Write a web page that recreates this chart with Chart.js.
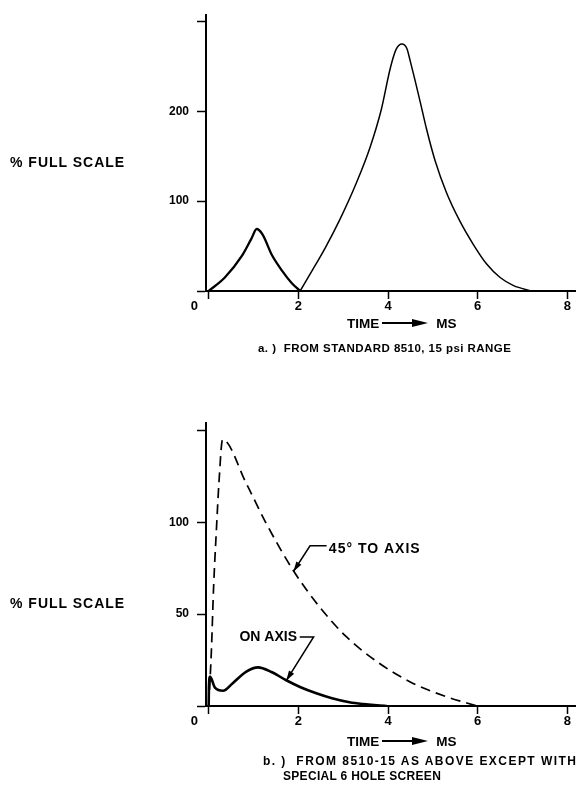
<!DOCTYPE html>
<html>
<head>
<meta charset="utf-8">
<script src="https://cdn.jsdelivr.net/npm/chart.js@4/dist/chart.umd.min.js"></script>
<style>
  html, body { margin: 0; padding: 0; background: #fff; }
  #wrap { position: relative; width: 577px; height: 785px; overflow: hidden; background: #fff;
          font-family: "Liberation Sans", Arial, Helvetica, sans-serif;
          font-weight: bold; color: #000; }
  .cv { position: absolute; left: 0; }
  .lbl { position: absolute; white-space: nowrap; line-height: 1; }
  .arrow { display: inline-block; position: relative; width: 46px; height: 10px; vertical-align: middle; margin: 0 8px 0 3px; top: -1px; }
  .arrow::before { content: ""; position: absolute; left: 0; right: 10px; top: 4px; border-top: 2px solid #000; }
  .arrow::after { content: ""; position: absolute; right: 0; top: 1px; border-left: 16px solid #000;
                  border-top: 4px solid transparent; border-bottom: 4px solid transparent; }
</style>
</head>
<body>
<div id="wrap">
  <canvas id="chartA" class="cv" width="577" height="320" style="top:0px;width:577px;height:320px"></canvas>
  <canvas id="chartB" class="cv" width="577" height="335" style="top:400px;width:577px;height:335px"></canvas>

  <div class="lbl" style="left:10px;top:155px;font-size:14px;letter-spacing:1px">% FULL SCALE</div>
  <div class="lbl" style="left:10px;top:596px;font-size:14px;letter-spacing:1px">% FULL SCALE</div>

  <div class="lbl" style="left:347px;top:317px;font-size:13.5px">TIME<span class="arrow"></span>MS</div>
  <div class="lbl" style="left:258px;top:343px;font-size:11.5px;letter-spacing:0.45px">a. )&nbsp; FROM STANDARD 8510, 15 psi RANGE</div>

  <div class="lbl" style="left:347px;top:735px;font-size:13.5px">TIME<span class="arrow"></span>MS</div>
  <div class="lbl" style="left:263px;top:755px;font-size:12px;letter-spacing:1.45px">b. )&nbsp; FROM 8510-15 AS ABOVE EXCEPT WITH</div>
  <div class="lbl" style="left:283px;top:770px;font-size:12px;letter-spacing:0.3px">SPECIAL 6 HOLE SCREEN</div>
</div>
<script>
// ---------- data: chart a ----------
const xTicks = [0, 2, 4, 6, 8];
const yTicksA = [0, 100, 200, 300];
const yLabelsA = ["", "100", "200", ""];
const timeA1 = [0, 0.36, 0.74, 0.95, 1.07, 1.2, 1.41, 1.63, 1.85, 2.04];
const pctA1  = [0, 15, 39, 58, 69, 63, 40, 23, 9, 0];
const timeA2 = [2.04, 2.3, 2.6, 2.93, 3.3, 3.6, 3.85, 4.05, 4.18, 4.31, 4.42, 4.5, 4.6, 4.72, 4.86, 5.05, 5.3, 5.6, 5.9, 6.2, 6.5, 6.8, 7.2];
const pctA2  = [0, 22, 48, 80, 121, 160, 202, 248, 269, 275, 270, 255, 235, 210, 180, 145, 110, 78, 52, 30, 15, 6, 0];

// ---------- data: chart b ----------
const yTicksB = [0, 50, 100, 150];
const yLabelsB = ["", "50", "100", ""];
const time45 = [0, 0.06, 0.11, 0.17, 0.23, 0.31, 0.84, 1.28, 1.88, 2.47, 3.07, 3.82, 4.56, 5.31, 5.98];
const pct45  = [0, 30, 65, 95, 122, 145, 121, 99.5, 74, 54, 37.7, 23, 12.3, 5, 0];
const timeOn = [0, 0.005, 0.03, 0.14, 0.32, 0.53, 0.84, 1.1, 1.4, 1.73, 2.05, 2.4, 2.75, 3.14, 3.45, 3.82, 3.97];
const pctOn  = [0, 10, 16, 10, 8.3, 12.3, 18.7, 21, 18.5, 14, 10.2, 6.9, 4.2, 2, 1, 0.2, 0];

// annotation texts
const annoTexts = ["45° TO AXIS", "ON AXIS"];

const FONT = '"Liberation Sans", Arial, Helvetica, sans-serif';
const pts = (xs, ys) => xs.map((x, i) => ({ x: x, y: ys[i] }));

function axes(yTicks, yLabels, yMax) {
  return {
    x: {
      type: 'linear', min: -0.06, max: 8.17,
      afterBuildTicks: s => { s.ticks = xTicks.map(v => ({ value: v })); },
      afterFit: s => { s.height = 29; },
      ticks: { color: '#000', padding: 0, maxRotation: 0, autoSkip: false,
               font: { family: FONT, size: 13, weight: 'bold' },
               callback: v => v === 0 ? '0        ' : String(v) },
      grid: { drawOnChartArea: false, drawTicks: true, tickLength: 8, tickColor: '#000', tickWidth: 1.5 },
      border: { display: true, color: '#000', width: 2 }
    },
    y: {
      type: 'linear', min: 0, max: yMax,
      afterBuildTicks: s => { s.ticks = yTicks.map(v => ({ value: v })); },
      afterFit: s => { s.width = 206; },
      ticks: { color: '#000', padding: 8, autoSkip: false,
               font: { family: FONT, size: 12, weight: 'bold' },
               callback: v => yLabels[yTicks.indexOf(v)] },
      grid: { drawOnChartArea: false, drawTicks: true, tickLength: 9, tickColor: '#000', tickWidth: 1.5 },
      border: { display: true, color: '#000', width: 2 }
    }
  };
}

const common = {
  responsive: false, animation: false, devicePixelRatio: 1,
  plugins: { legend: { display: false }, tooltip: { enabled: false } },
  elements: { point: { radius: 0 }, line: { cubicInterpolationMode: 'monotone', fill: false } }
};

new Chart(document.getElementById('chartA'), {
  type: 'line',
  data: { datasets: [
    { data: pts(timeA1, pctA1), borderColor: '#000', borderWidth: 2.3 },
    { data: pts(timeA2, pctA2), borderColor: '#000', borderWidth: 1.5 }
  ] },
  options: Object.assign({}, common, {
    layout: { padding: { top: 10, right: 2, left: 0, bottom: 0 } },
    scales: axes(yTicksA, yLabelsA, 307)
  })
});

function leader(ctx, p) {
  ctx.lineWidth = 1.5;
  ctx.beginPath();
  ctx.moveTo(p[0][0], p[0][1]);
  for (let i = 1; i < p.length; i++) ctx.lineTo(p[i][0], p[i][1]);
  ctx.stroke();
  const a = p[p.length - 2], b = p[p.length - 1];
  const ang = Math.atan2(b[1] - a[1], b[0] - a[0]);
  const L = 10, W = 3;
  ctx.beginPath();
  ctx.moveTo(b[0], b[1]);
  ctx.lineTo(b[0] - L * Math.cos(ang) + W * Math.sin(ang), b[1] - L * Math.sin(ang) - W * Math.cos(ang));
  ctx.lineTo(b[0] - L * Math.cos(ang) - W * Math.sin(ang), b[1] - L * Math.sin(ang) + W * Math.cos(ang));
  ctx.closePath();
  ctx.fill();
}

const annotate = {
  id: 'annotate',
  afterDatasetsDraw(chart) {
    const ctx = chart.ctx, X = chart.scales.x, Y = chart.scales.y;
    const P = (x, y) => [X.getPixelForValue(x), Y.getPixelForValue(y)];
    ctx.save();
    ctx.fillStyle = '#000'; ctx.strokeStyle = '#000';
    ctx.font = 'bold 14px ' + FONT;
    ctx.textBaseline = 'middle';
    let t = P(2.68, 85.6);
    ctx.textAlign = 'left';
    ctx.letterSpacing = '1px';
    ctx.fillText(annoTexts[0], t[0], t[1]);
    ctx.letterSpacing = '0px';
    leader(ctx, [P(2.63, 87.2), P(2.26, 87.2), P(1.89, 73.2)]);
    t = P(1.97, 37.6);
    ctx.textAlign = 'right';
    ctx.fillText(annoTexts[1], t[0], t[1]);
    leader(ctx, [P(2.03, 37.6), P(2.34, 37.6), P(1.73, 13.8)]);
    ctx.restore();
  }
};

new Chart(document.getElementById('chartB'), {
  type: 'line',
  data: { datasets: [
    { data: pts(time45, pct45), borderColor: '#000', borderWidth: 1.7, borderDash: [10, 6] },
    { data: pts(timeOn, pctOn), borderColor: '#000', borderWidth: 2.6 }
  ] },
  options: Object.assign({}, common, {
    layout: { padding: { top: 23, right: 2, left: 0, bottom: 0 } },
    scales: axes(yTicksB, yLabelsB, 154)
  }),
  plugins: [annotate]
});
</script>
</body>
</html>
